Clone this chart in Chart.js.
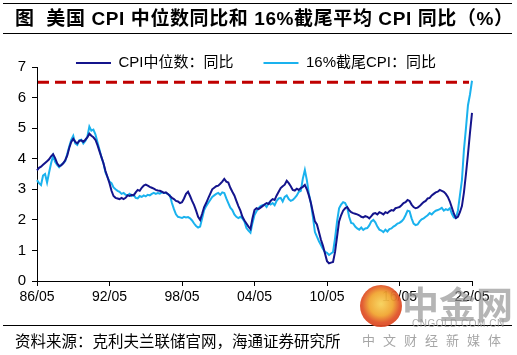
<!DOCTYPE html>
<html><head><meta charset="utf-8">
<script src="https://cdn.jsdelivr.net/npm/chart.js@4/dist/chart.umd.min.js"></script>
<style>
html,body{margin:0;padding:0;background:#fff;}
#wrap{position:relative;width:517px;height:355px;overflow:hidden;font-family:"Liberation Sans","Noto Sans CJK SC",sans-serif;}
#c{position:absolute;left:0;top:0;}
.rule{position:absolute;left:3px;width:509px;height:1px;background:#000;}
#title{position:absolute;left:15px;top:8px;font-weight:bold;font-size:19px;letter-spacing:0.6px;line-height:22px;white-space:nowrap;color:#000;}
#source{position:absolute;left:15px;top:331px;font-size:15.5px;line-height:18px;white-space:nowrap;color:#000;font-family:"Noto Sans CJK SC",sans-serif;}
#logo{position:absolute;left:360px;top:285px;width:42px;height:42px;border-radius:50%;background:radial-gradient(circle at 50% 45%,#f7d25a 0%,#f0a531 38%,#e0542a 60%,#d0301a 100%);opacity:0.95;}
#wm1{position:absolute;left:402px;top:282px;font-size:37px;line-height:42px;font-weight:bold;color:rgba(150,150,150,0.7);font-family:"Noto Sans CJK SC",sans-serif;white-space:nowrap;}
#wm2{position:absolute;left:412px;top:318px;font-size:10px;line-height:11px;color:rgba(150,150,150,0.8);white-space:nowrap;letter-spacing:0.5px;}
#wm3{position:absolute;left:362px;top:332px;font-size:13px;line-height:16px;color:rgba(150,150,150,0.85);white-space:nowrap;letter-spacing:8px;font-family:"Noto Sans CJK SC",sans-serif;}
</style></head>
<body>
<div id="wrap">
<canvas id="c" width="517" height="355"></canvas>
<div class="rule" style="top:3px"></div>
<div id="title">图&nbsp;&nbsp;美国 CPI 中位数同比和 16%截尾平均 CPI 同比（%）</div>
<div class="rule" style="top:33px"></div>
<div class="rule" style="top:325px"></div>
<div id="source">资料来源：克利夫兰联储官网，海通证券研究所</div>
<div id="logo"></div>
<div id="wm1">中金网</div>
<div id="wm2">CNGOLD.COM.CN</div>
<div id="wm3">中文财经新媒体</div>
</div>
<script>
// bimonthly observations, 1986/05 .. 2022/05
const categories = [];
for (let i = 0; i < 217; i++) {
  const m = 4 + 2 * i;
  const y = 1986 + Math.floor(m / 12);
  const mm = (m % 12) + 1;
  categories.push(String(y % 100).padStart(2, '0') + '/' + String(mm).padStart(2, '0'));
}
const tickLabels = ['86/05','92/05','98/05','04/05','10/05','16/05','22/05'];
const seriesNames = ['CPI中位数：同比', '16%截尾CPI：同比'];
const thresholdValue = [6.5];

const median = [
3.62,3.70,3.74,3.80,3.86,3.92,3.98,4.08,4.15,4.02,3.85,3.76,
3.78,3.85,3.95,4.10,4.35,4.55,4.65,4.55,4.50,4.58,4.60,4.55,
4.62,4.70,4.82,4.75,4.70,4.62,4.45,4.25,4.05,3.85,3.60,3.40,
3.20,2.95,2.78,2.72,2.70,2.68,2.72,2.68,2.72,2.80,2.78,2.82,
2.80,2.90,2.98,2.95,3.05,3.12,3.15,3.12,3.08,3.05,3.02,2.98,
2.96,2.95,2.92,2.88,2.90,2.85,2.78,2.72,2.68,2.62,2.60,2.55,
2.58,2.70,2.85,2.92,2.78,2.62,2.48,2.30,2.10,2.00,2.20,2.42,
2.55,2.70,2.85,3.00,3.05,3.10,3.12,3.18,3.25,3.34,3.25,3.22,
3.05,2.92,2.80,2.62,2.45,2.30,2.10,1.98,1.88,1.78,1.70,2.05,
2.32,2.38,2.35,2.40,2.45,2.50,2.55,2.52,2.62,2.68,2.65,2.80,
2.92,3.04,3.10,3.15,3.28,3.20,3.10,2.98,2.96,3.02,2.98,3.04,
3.08,3.14,3.00,2.80,2.55,2.25,1.95,1.85,1.60,1.35,1.15,0.90,
0.65,0.58,0.60,0.62,0.95,1.45,1.95,2.15,2.30,2.38,2.42,2.32,
2.25,2.22,2.20,2.18,2.15,2.10,2.08,2.12,2.10,2.05,2.12,2.20,
2.22,2.18,2.25,2.22,2.18,2.25,2.22,2.28,2.32,2.30,2.38,2.40,
2.42,2.48,2.55,2.58,2.65,2.62,2.50,2.42,2.38,2.40,2.45,2.52,
2.58,2.62,2.70,2.72,2.80,2.85,2.90,2.92,2.98,2.95,2.92,2.85,
2.75,2.60,2.40,2.20,2.06,2.10,2.25,2.45,2.90,3.50,4.15,4.85,5.50
];
const trimmed = [
3.30,3.20,3.14,3.45,3.50,3.22,3.55,3.85,4.10,3.90,3.80,3.72,
3.80,3.85,3.92,4.15,4.40,4.62,4.75,4.50,4.45,4.60,4.62,4.50,
4.58,4.72,5.05,4.92,4.95,4.80,4.55,4.30,4.05,3.85,3.55,3.40,
3.25,3.20,3.06,3.00,2.95,2.92,2.85,2.88,2.82,2.80,2.85,2.78,
2.82,2.72,2.70,2.78,2.75,2.80,2.77,2.82,2.80,2.85,2.88,2.85,
2.88,2.86,2.90,2.88,2.88,2.84,2.80,2.55,2.35,2.18,2.10,2.08,
2.06,2.10,2.08,2.09,2.05,1.98,1.88,1.80,1.75,1.78,2.05,2.32,
2.45,2.55,2.65,2.75,2.80,2.85,2.88,2.82,2.90,2.88,2.70,2.55,
2.40,2.32,2.18,2.10,2.06,2.10,2.05,1.95,1.73,1.65,1.58,1.90,
2.16,2.28,2.38,2.45,2.48,2.50,2.42,2.55,2.50,2.55,2.48,2.62,
2.70,2.72,2.60,2.75,2.80,2.68,2.62,2.65,2.72,2.80,2.92,2.95,
3.35,3.63,3.30,2.85,2.55,2.10,1.60,1.45,1.30,1.18,1.05,0.95,
0.92,0.85,0.90,0.95,1.40,1.95,2.38,2.50,2.58,2.55,2.42,2.10,
1.90,1.88,1.78,1.72,1.68,1.75,1.67,1.72,1.73,1.82,1.95,2.00,
1.92,1.78,1.68,1.65,1.60,1.68,1.62,1.70,1.72,1.78,1.82,1.88,
1.90,1.95,2.02,2.15,2.30,2.28,2.05,1.88,1.83,1.85,1.95,2.02,
2.05,2.10,2.15,2.22,2.18,2.25,2.30,2.32,2.35,2.39,2.30,2.35,
2.32,2.38,2.20,2.08,2.06,2.30,2.80,3.30,4.30,5.00,5.75,6.10,6.55
];

const thresholdPlugin = {
  id: 'threshold',
  afterDatasetsDraw(chart) {
    const {ctx, chartArea, scales} = chart;
    const y = scales.y.getPixelForValue(thresholdValue[0]);
    ctx.save();
    ctx.strokeStyle = '#C00000';
    ctx.lineWidth = 3;
    ctx.setLineDash([11, 6]);
    ctx.beginPath();
    ctx.moveTo(chartArea.left + 1, y);
    ctx.lineTo(chartArea.right - 3, y);
    ctx.stroke();
    ctx.restore();
  }
};
const legendShift = {
  id: 'legendShift',
  afterLayout(chart) {
    const lg = chart.legend;
    if (!lg) return;
    const dy = 63 - (lg.top + lg.options.labels.padding + 7.5);
    const dx = 20;
    lg.top += dy; lg.bottom += dy;
    lg.left += dx; lg.right += dx;
  }
};

new Chart(document.getElementById('c'), {
  type: 'line',
  data: {
    labels: categories,
    datasets: [
      {label: seriesNames[0], data: median, borderColor: '#14148C', backgroundColor: '#14148C', borderWidth: 2, pointRadius: 0, tension: 0},
      {label: seriesNames[1], data: trimmed, borderColor: '#1AB2EE', backgroundColor: '#1AB2EE', borderWidth: 2, pointRadius: 0, tension: 0}
    ]
  },
  options: {
    responsive: false,
    animation: false,
    events: [],
    layout: {padding: {left: 0, right: 45, top: 12, bottom: 44}},
    plugins: {
      tooltip: {enabled: false},
      legend: {
        display: true,
        position: 'top',
        labels: {
          usePointStyle: true,
          pointStyle: 'line',
          pointStyleWidth: 35,
          padding: 30,
          color: '#000',
          font: {size: 15, family: '"Liberation Sans","Noto Sans CJK SC",sans-serif'}
        }
      }
    },
    scales: {
      x: {
        type: 'category',
        offset: false,
        afterBuildTicks(scale) {
          scale.ticks = scale.ticks.filter(t => tickLabels.includes(categories[t.value]));
        },
        afterFit(scale) { scale.height = 30; },
        ticks: {
          autoSkip: false, maxRotation: 0, minRotation: 0, padding: 3, color: '#000',
          font: {size: 14, family: '"Liberation Sans",sans-serif'},
          callback(v) { return categories[v]; }
        },
        grid: {drawOnChartArea: false, drawTicks: true, tickLength: 5, color: '#000'},
        border: {display: true, color: '#000', width: 1}
      },
      y: {
        min: 0, max: 7,
        afterFit(scale) { scale.width = 37; },
        ticks: {stepSize: 1, padding: 6, color: '#000', font: {size: 15, family: '"Liberation Sans",sans-serif'}},
        grid: {drawOnChartArea: false, drawTicks: true, tickLength: 5, color: '#000'},
        border: {display: true, color: '#000', width: 1}
      }
    }
  },
  plugins: [thresholdPlugin, legendShift]
});
</script>
</body></html>
